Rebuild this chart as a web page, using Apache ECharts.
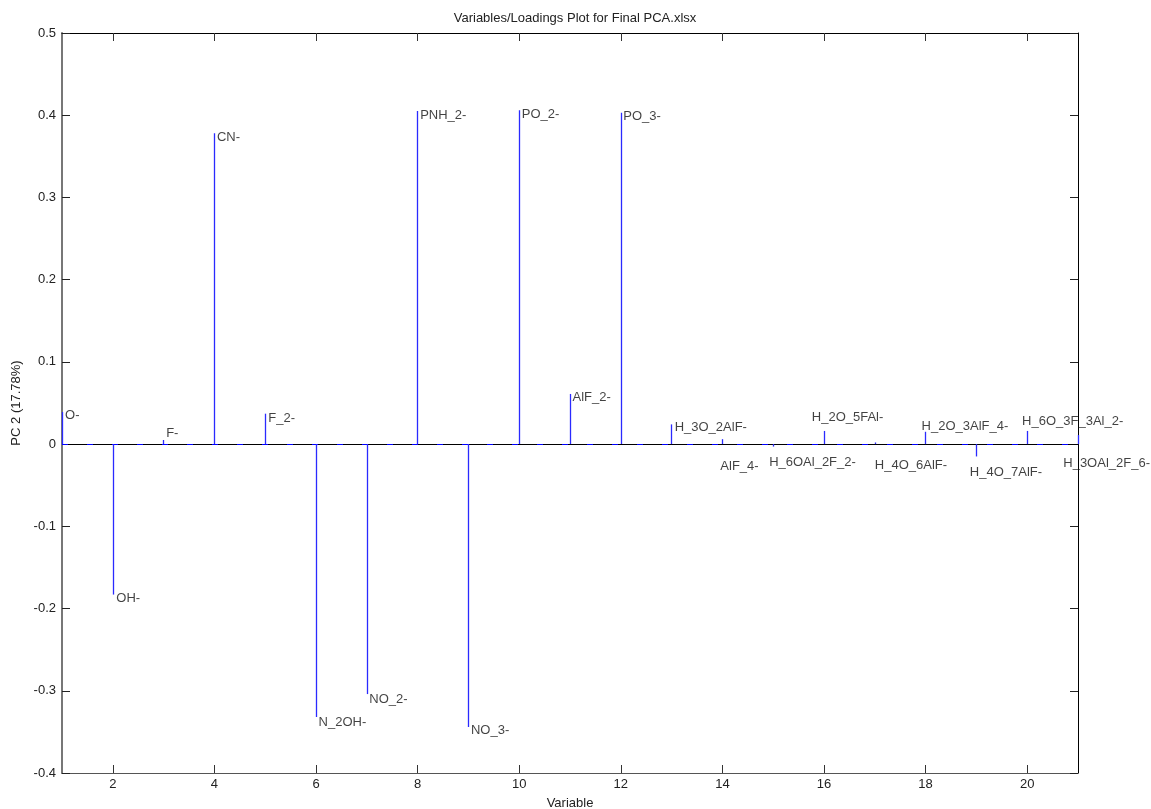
<!DOCTYPE html>
<html>
<head>
<meta charset="utf-8">
<script src="https://cdn.jsdelivr.net/npm/echarts@6/dist/echarts.min.js"></script>
<style>
html,body{margin:0;padding:0;background:#fff;}
#chart{width:1151px;height:809px;}
</style>
</head>
<body>
<div id="chart"></div>
<script>
const variables = [1,2,3,4,5,6,7,8,9,10,11,12,13,14,15,16,17,18,19,20,21];
const names = ['O-','OH-','F-','CN-','F_2-','N_2OH-','NO_2-','PNH_2-','NO_3-','PO_2-','AlF_2-','PO_3-',
  'H_3O_2AlF-','AlF_4-','H_6OAl_2F_2-','H_2O_5FAl-','H_4O_6AlF-','H_2O_3AlF_4-','H_4O_7AlF-','H_6O_3F_3Al_2-','H_3OAl_2F_6-'];
const loadings = [0.039,-0.183,0.005,0.378,0.037,-0.332,-0.304,0.405,-0.344,0.406,0.061,0.403,
  0.024,0.006,-0.003,0.016,0.002,0.015,-0.015,0.016,0.011];
// anchor of each text annotation (start of text), in axis units
const labelX = [1.06,2.07,3.05,4.05,5.06,6.05,7.05,8.05,9.05,10.05,11.05,12.05,
  13.06,13.96,14.92,15.76,17.0,17.92,18.87,19.9,20.71];
const labelY = [0.035,-0.188,0.013,0.373,0.031,-0.338,-0.310,0.400,-0.348,0.401,0.057,0.398,
  0.020,-0.027,-0.022,0.033,-0.026,0.021,-0.035,0.027,-0.024];
const xTicks = [2,4,6,8,10,12,14,16,18,20];
const yTicks = [-0.4,-0.3,-0.2,-0.1,0,0.1,0.2,0.3,0.4,0.5];

const FONT = 'Liberation Sans, Arial, sans-serif';
const chart = echarts.init(document.getElementById('chart'));

const stemLines = variables.map((x,i)=>[{coord:[x,0]},{coord:[x,loadings[i]]}]);
const labelData = variables.map((x,i)=>({value:[labelX[i], labelY[i]], name:names[i]}));

const yFmt = v => { const r = Math.round(v*10)/10; return r === 0 ? '0' : String(r); };

chart.setOption({
  animation:false,
  backgroundColor:'#fff',
  title:{
    text:'Variables/Loadings Plot for Final PCA.xlsx',
    left:570, top:7, textAlign:'center',
    textStyle:{fontFamily:FONT,fontSize:13,fontWeight:'normal',color:'#222'}
  },
  grid:{left:62,right:73,top:33,bottom:36,containLabel:false,outerBoundsMode:'none'},
  xAxis:[{
    type:'value',min:1,max:21,position:'bottom',
    name:'Variable',nameLocation:'middle',nameGap:24,
    nameTextStyle:{fontFamily:FONT,fontSize:13,color:'#222'},
    axisLine:{show:true,onZero:false,lineStyle:{color:'#555',width:1}},
    axisTick:{show:true,inside:true,length:8,customValues:xTicks,lineStyle:{color:'#333'}},
    axisLabel:{show:true,customValues:xTicks,margin:5,fontFamily:FONT,fontSize:13,color:'#222'},
    splitLine:{show:false}
  },{
    type:'value',min:1,max:21,position:'top',
    axisLine:{show:true,onZero:false,lineStyle:{color:'#000',width:1}},
    axisTick:{show:true,inside:true,length:8,customValues:xTicks,lineStyle:{color:'#333'}},
    axisLabel:{show:false},
    splitLine:{show:false}
  }],
  yAxis:[{
    type:'value',min:-0.4,max:0.5,interval:0.1,position:'left',
    name:'PC 2 (17.78%)',nameLocation:'middle',nameGap:29,nameRotate:90,
    nameTextStyle:{fontFamily:FONT,fontSize:13,color:'#222'},
    axisLine:{show:true,onZero:false,lineStyle:{color:'#777',width:2}},
    axisTick:{show:true,inside:true,length:8,customValues:yTicks,lineStyle:{color:'#222'}},
    axisLabel:{show:true,customValues:yTicks,margin:6,formatter:yFmt,fontFamily:FONT,fontSize:13,color:'#222'},
    splitLine:{show:false}
  },{
    type:'value',min:-0.4,max:0.5,interval:0.1,position:'right',
    axisLine:{show:true,onZero:false,lineStyle:{color:'#000',width:1}},
    axisTick:{show:true,inside:true,length:8,customValues:yTicks,lineStyle:{color:'#222'}},
    axisLabel:{show:false},
    splitLine:{show:false}
  }],
  series:[
    {
      type:'line',data:[],silent:true,z:1,
      markLine:{silent:true,symbol:'none',label:{show:false},
        lineStyle:{color:'#000',width:1,type:'solid'},
        data:[{yAxis:0}]}
    },
    {
      type:'line',data:[],silent:true,z:2,
      markLine:{silent:true,symbol:'none',label:{show:false},
        lineStyle:{color:'#0000ff',width:1,type:[6,19]},
        data:[{yAxis:0}]}
    },
    {
      type:'line',data:[],silent:true,z:3,
      markLine:{silent:true,symbol:'none',label:{show:false},
        lineStyle:{color:'#2a2aff',width:1.3,type:'solid'},
        emphasis:{disabled:true},
        data:stemLines}
    },
    {
      type:'scatter',data:labelData,symbolSize:0,silent:true,z:4,
      label:{show:true,position:'right',distance:0,formatter:p=>p.name,
        fontFamily:FONT,fontSize:13,color:'#111'}
    }
  ]
});
</script>
</body>
</html>
